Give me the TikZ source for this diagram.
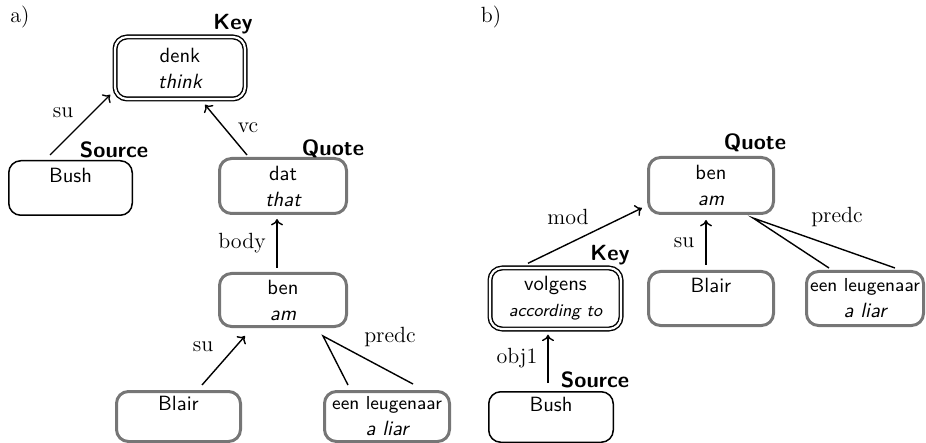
\documentclass[tikz,border=0pt]{standalone}
\usetikzlibrary{calc,arrows.meta}
\definecolor{boxgrey}{RGB}{118,118,118}
\tikzset{
  base/.style={rounded corners=6pt, align=center, inner sep=0pt,
    font=\sffamily\fontsize{10.3}{13}\selectfont},
  greybox/.style={base, draw=boxgrey, line width=1.5pt},
  thinbox/.style={base, draw=black, line width=0.75pt},
  keybox/.style={base, draw=black, double=white, line width=0.7pt, double distance=1.1pt},
  tag/.style={inner sep=0pt, font=\sffamily\bfseries\fontsize{11}{12}\selectfont},
  elabel/.style={inner sep=0pt, font=\rmfamily\fontsize{11}{12}\selectfont},
  arr/.style={line width=0.7pt, -{To[length=3.2pt,width=6pt]}},
  ln/.style={line width=0.7pt},
}
\newcommand{\smallsf}{\fontsize{9.4}{11}\selectfont}
\begin{document}
\begin{tikzpicture}[x=0.5pt,y=-0.5pt]
\useasboundingbox (0,0) rectangle (926,443);

% ---------- panel a ----------
\node[elabel] (la) at (20,17) {a)};
\node[keybox, minimum width=65pt, minimum height=31pt] (denk) at (180,68) {denk\\\itshape think};
\node[thinbox, minimum width=61.75pt, minimum height=27.25pt] (busha) at (70.5,188) {Bush\\~};
\node[greybox, minimum width=63.5pt, minimum height=27.5pt] (dat) at (283,186) {dat\\\itshape that};
\node[greybox, minimum width=63.5pt, minimum height=26.5pt] (bena) at (283,300) {ben\\\itshape am};
\node[greybox, minimum width=62pt, minimum height=25pt] (blaira) at (178.5,416.5) {Blair\\~};
\node[greybox, minimum width=62.5pt, minimum height=25pt] (eena) at (387,416.5)
  {{\smallsf een leugenaar}\\\itshape a liar};

\node[tag] (keya) at (233,24) {Key};
\node[tag] (sourcea) at (114,150) {Source};
\node[tag] (quotea) at (333,149) {Quote};

\draw[arr] ($(busha.north)+(-20.5,-5)$) -- ($(denk.south west)+(-4,-5)$);
\draw[arr] ($(dat.north)+(-36,-2)$) -- ($(denk.south)+(25,5)$);
\draw[arr] ($(bena.north)+(-6,-4)$) -- ($(dat.south)+(-6,4)$);
\draw[arr] ($(blaira.north)+(23.5,-5)$) -- ($(bena.south)+(-38,8)$);
\coordinate (pa) at ($(bena.south)+(40,8)$);
\draw[ln] ($(eena.north)+(-39,-5)$) -- (pa) -- ($(eena.north)+(26,-6)$);

\node[elabel] (lsu1) at (63,113) {su};
\node[elabel] (lvc) at (248,128) {vc};
\node[elabel] (lbody) at (242,243) {body};
\node[elabel] (lsu2) at (203,347) {su};
\node[elabel] (lpredca) at (390,337) {predc};

% ---------- panel b ----------
\node[elabel] (lb) at (491,17) {b)};
\node[greybox, minimum width=62.5pt, minimum height=28pt] (benb) at (711,185.5) {ben\\\itshape am};
\node[greybox, minimum width=62.5pt, minimum height=27pt] (blairb) at (711,298.5) {Blair\\~};
\node[greybox, minimum width=58.5pt, minimum height=27pt] (eenb) at (865,298.5)
  {{\smallsf een leugenaar}\\\itshape a liar};
\node[keybox, minimum width=65.5pt, minimum height=30.5pt] (volgens) at (555.5,298.5)
  {volgens\\{\fontsize{8.8}{11}\selectfont\itshape according to}};
\node[thinbox, minimum width=62.25pt, minimum height=25.25pt] (bushb) at (551,417) {Bush\\~};

\node[tag] (quoteb) at (755,143) {Quote};
\node[tag] (keyb) at (610,255) {Key};
\node[tag] (sourceb) at (595,380) {Source};

\draw[arr] ($(volgens.north)+(-27.5,-4)$) -- ($(benb.south west)+(-5,-7)$);
\draw[arr] ($(blairb.north)+(-5,-5)$) -- ($(benb.south)+(-5,5)$);
\coordinate (pb) at ($(benb.south)+(42,3)$);
\draw[ln] ($(eenb.north)+(-36,-2)$) -- (pb) -- ($(eenb.north)+(30,-2)$);
\draw[arr] ($(bushb.north)+(-3,-8)$) -- ($(volgens.south)+(-7.5,5)$);

\node[elabel] (lmod) at (568,217) {mod};
\node[elabel] (lsu3) at (684,243) {su};
\node[elabel] (lpredcb) at (837,217) {predc};
\node[elabel] (lobj) at (517,358) {obj1};
\end{tikzpicture}
\end{document}
